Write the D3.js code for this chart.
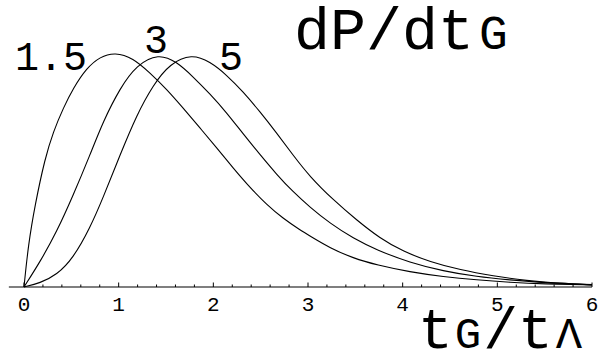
<!DOCTYPE html>
<html>
<head>
<meta charset="utf-8">
<script src="https://cdn.jsdelivr.net/npm/d3@7/dist/d3.min.js"></script>
<style>
  body { margin: 0; background: #fff; }
  text { font-family: "Liberation Mono", "DejaVu Sans Mono", monospace; fill: #000; }
</style>
</head>
<body>
<svg id="chart" width="600" height="354"></svg>
<script>

// values (t in units of t_Lambda, dP/dt scaled so peak ~ 1)
var t15 = [0, 0.045, 0.116, 0.222, 0.31, 0.415, 0.521, 0.662, 0.803, 0.961, 1.151, 1.331, 1.507, 1.68, 1.859, 2.036, 2.208, 2.387, 2.564, 2.736, 2.915, 3.021, 3.232, 3.478, 3.726, 4.077, 4.429, 4.782, 5.134, 5.486, 6.0];
var p15 = [0, 0.179, 0.35, 0.551, 0.664, 0.765, 0.85, 0.936, 0.984, 1.003, 0.979, 0.915, 0.845, 0.765, 0.68, 0.594, 0.509, 0.425, 0.352, 0.293, 0.244, 0.218, 0.167, 0.123, 0.094, 0.064, 0.044, 0.03, 0.02, 0.013, 0.009];

var t3 = [0, 0.169, 0.345, 0.521, 0.697, 0.834, 1.014, 1.19, 1.42, 1.613, 1.785, 1.965, 2.141, 2.313, 2.493, 2.669, 2.841, 3.021, 3.232, 3.478, 3.726, 4.077, 4.429, 4.782, 5.134, 5.486, 6.0];
var p3 = [0, 0.107, 0.235, 0.393, 0.564, 0.706, 0.85, 0.949, 0.998, 0.963, 0.899, 0.825, 0.745, 0.655, 0.566, 0.481, 0.407, 0.341, 0.272, 0.208, 0.158, 0.104, 0.068, 0.044, 0.03, 0.018, 0.01];

var t5 = [0, 0.169, 0.345, 0.521, 0.697, 0.834, 1.014, 1.19, 1.363, 1.542, 1.771, 1.965, 2.141, 2.313, 2.493, 2.669, 2.841, 3.021, 3.267, 3.514, 3.76, 4.007, 4.289, 4.606, 4.957, 5.31, 5.662, 6.0];
var p5 = [0, 0.017, 0.051, 0.124, 0.252, 0.38, 0.564, 0.735, 0.863, 0.955, 0.996, 0.963, 0.906, 0.835, 0.749, 0.658, 0.564, 0.471, 0.372, 0.286, 0.208, 0.151, 0.108, 0.073, 0.047, 0.027, 0.016, 0.009];

var seriesNames = ["1.5", "3", "5"];
var majorTicks = [0, 1, 2, 3, 4, 5, 6];

var svg = d3.select("#chart");

var x = d3.scaleLinear().domain([0, 6]).range([24, 592]);
var y = d3.scaleLinear().domain([0, 1]).range([287, 53]);

// axis line, a little past zero on the left like the original
svg.append("line")
    .attr("x1", x(-0.16)).attr("x2", x(6))
    .attr("y1", y(0)).attr("y2", y(0))
    .attr("stroke", "#000").attr("stroke-width", 1.1);

var minorTicks = x.ticks(30).filter(function (d) { return majorTicks.indexOf(d) < 0; });

svg.append("g").selectAll("line.minor")
    .data(minorTicks)
    .enter().append("line")
    .attr("x1", function (d) { return x(d); })
    .attr("x2", function (d) { return x(d); })
    .attr("y1", y(0)).attr("y2", y(0) - 2.5)
    .attr("stroke", "#000").attr("stroke-width", 1);

svg.append("g").selectAll("line.major")
    .data(majorTicks)
    .enter().append("line")
    .attr("x1", function (d) { return x(d); })
    .attr("x2", function (d) { return x(d); })
    .attr("y1", y(0)).attr("y2", y(0) - 4.5)
    .attr("stroke", "#000").attr("stroke-width", 1);

svg.append("g").selectAll("text")
    .data(majorTicks)
    .enter().append("text")
    .attr("x", function (d) { return x(d); })
    .attr("y", 311)
    .attr("text-anchor", "middle")
    .style("font-size", "21px")
    .text(function (d) { return d; });

var line = d3.line()
    .x(function (d) { return x(d[0]); })
    .y(function (d) { return y(d[1]); })
    .curve(d3.curveBasis);

var series = [d3.zip(t15, p15), d3.zip(t3, p3), d3.zip(t5, p5)];

svg.append("g").selectAll("path")
    .data(series)
    .enter().append("path")
    .attr("d", line)
    .attr("fill", "none")
    .attr("stroke", "#000")
    .attr("stroke-width", 1.1);

// curve labels
var labelPos = [[51, 70], [156, 53], [231, 70]];
svg.append("g").selectAll("text")
    .data(seriesNames)
    .enter().append("text")
    .attr("x", function (d, i) { return labelPos[i][0]; })
    .attr("y", function (d, i) { return labelPos[i][1]; })
    .attr("text-anchor", "middle")
    .style("font-size", "40px")
    .text(function (d) { return d; });

// y label
var title = svg.append("text")
    .attr("x", 294).attr("y", 49)
    .style("font-size", "60px");
title.append("tspan").text("dP/dt");
title.append("tspan").attr("dx", 5).style("font-size", "48px").text("G");

// x label
var xlab = svg.append("text")
    .attr("x", 418).attr("y", 348)
    .style("font-size", "58px");
xlab.append("tspan").text("t");
xlab.append("tspan").attr("dx", 2).style("font-size", "44px").text("G");
xlab.append("tspan").attr("dx", 2).text("/t");
xlab.append("tspan").attr("dx", 3).style("font-size", "44px").text("Λ");

</script>
</body>
</html>
